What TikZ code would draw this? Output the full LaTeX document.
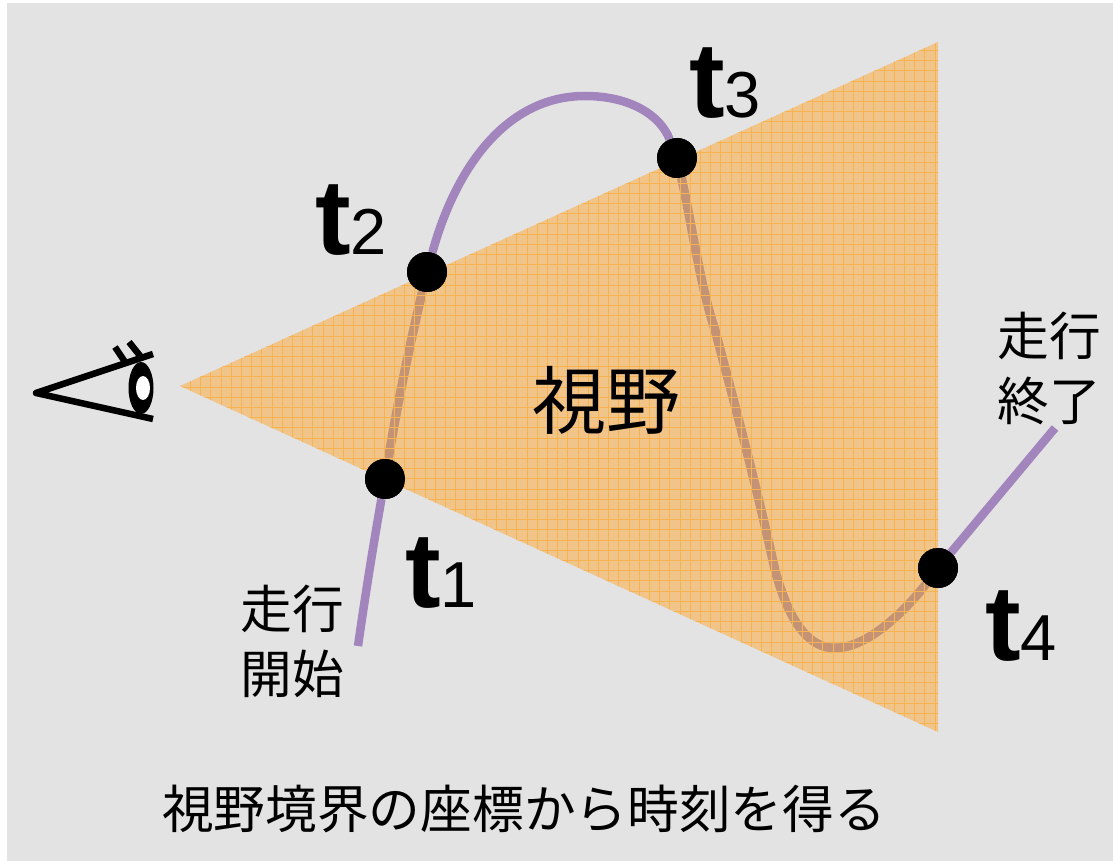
\documentclass[tikz,border=0pt]{standalone}
\usepackage{fontspec}
\setmainfont{Liberation Sans}
\newfontfamily\jpfont{Noto Sans CJK JP}
\usepackage{xcolor}
\usetikzlibrary{calc, positioning, shapes.geometric}
\definecolor{bggray}{HTML}{E3E3E3}
\definecolor{viewfill}{HTML}{F1C48A}
\definecolor{viewgrid}{HTML}{F6B350}
\definecolor{trackpurple}{HTML}{A385BD}
\definecolor{trackbrown}{HTML}{C49376}
\tikzset{
  timedot/.style={circle, fill=black, inner sep=0pt, minimum size=40pt},
  track/.style={line width=8.5pt, trackpurple},
  trackin/.style={line width=9pt, trackbrown},
  eyeline/.style={line width=6.5pt, black},
  jplabel/.style={inner sep=0pt, align=center, font=\jpfont\fontsize{51.7}{65}\selectfont},
  timelabel/.style={inner sep=0pt, anchor=base west}
}
\newcommand{\timemark}[1]{{\fontsize{107}{107}\selectfont\bfseries t}{\fontsize{65}{65}\selectfont #1}}
\begin{document}
\begin{tikzpicture}[x=1pt, y=-1pt]
    \useasboundingbox (0,0) rectangle (1113,861);
    \fill[bggray] (7,3) rectangle (1113,861);

    \fill[viewfill] (180,386) -- (938,42) -- (938,732) -- cycle;

    \node[timedot] (t1) at (385,479) {};
    \node[timedot] (t2) at (427,272) {};
    \node[timedot] (t3) at (677,158) {};
    \node[timedot] (t4) at (938,568) {};
    \coordinate (startpt) at (358,646);
    \coordinate (endpt) at (1055,428);

    \draw[track] (startpt) .. controls (366,590) and (375,535) .. (t1);
    \draw[trackin] (t1) .. controls (398,400) and (412,335) .. (t2);
    \draw[track] (t2) .. controls (455,170) and (505,96) .. (585,96)
        .. controls (630,96) and (660,115) .. (t3);
    \draw[trackin] (t3) .. controls (692,225) and (700,285) .. (715,330)
        .. controls (735,405) and (755,480) .. (775,570)
        .. controls (790,625) and (810,648) .. (835,648)
        .. controls (870,648) and (910,605) .. (t4);
    \draw[track] (t4) -- (endpt);

    \begin{scope}
        \clip (180,386) -- (938,42) -- (938,732) -- cycle;
        \foreach \gx in {0,...,76}
            \draw[viewgrid, line width=0.8pt] (170+\gx*10.2,30) -- (170+\gx*10.2,740);
        \foreach \gy in {0,...,70}
            \draw[viewgrid, line width=0.8pt] (170,30+\gy*10.2) -- (940,30+\gy*10.2);
    \end{scope}

    \node[timedot] at (t1) {};
    \node[timedot] at (t2) {};
    \node[timedot] at (t3) {};
    \node[timedot] at (t4) {};

    \coordinate (eyetip) at (36,393);
    \coordinate (lidup) at (153,354);
    \coordinate (liddown) at (153,419);
    \draw[eyeline, line join=round] (lidup) -- (eyetip) -- (liddown);
    \draw[eyeline] (115,347) -- (125,362);
    \draw[eyeline] (129,342) -- (141,357);
    \node[ellipse, fill=black, inner sep=0pt, minimum width=25pt, minimum height=52pt] (eyeball) at (141,388) {};
    \node[ellipse, fill=white, inner sep=0pt, minimum width=14pt, minimum height=24pt] (pupil) at (143,388) {};

    \node[timelabel] (l1) at (405,607) {\timemark{1}};
    \node[timelabel] (l2) at (315,254) {\timemark{2}};
    \node[timelabel] (l3) at (689,118) {\timemark{3}};
    \node[timelabel] (l4) at (985,660) {\timemark{4}};

    \node[jplabel, font=\jpfont\fontsize{74}{74}\selectfont] (viewname) at (606,400) {視野};
    \node[jplabel] (startname) at (292,641) {走行\\開始};
    \node[jplabel] (endname) at (1049,368) {走行\\終了};
    \node[jplabel] (caption) at (524,809) {視野境界の座標から時刻を得る};
\end{tikzpicture}
\end{document}
